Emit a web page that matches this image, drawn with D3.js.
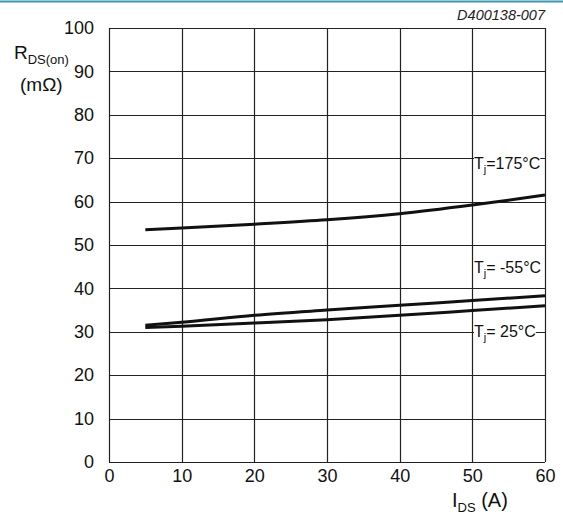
<!DOCTYPE html>
<html>
<head>
<meta charset="utf-8">
<script src="https://cdn.jsdelivr.net/npm/d3@7"></script>
<style>
  html, body { margin: 0; padding: 0; background: #fff; }
  svg { display: block; font-family: "Liberation Sans", Arial, sans-serif; }
</style>
</head>
<body>
<svg id="chart" width="563" height="517"></svg>
<script>
// Drain current (A)
const currents = [5, 10, 20, 30, 40, 50, 60];
// On-resistance (mΩ) per junction temperature
const rHot175 = [53.5, 53.9, 54.8, 55.8, 57.2, 59.2, 61.5];
const rCold55 = [31.5, 32.2, 33.8, 35.0, 36.1, 37.2, 38.3];
const rRoom25 = [31.0, 31.3, 32.0, 32.8, 33.8, 34.9, 36.0];
const seriesNames = ["=175°C", "= -55°C", "= 25°C"];
// baseline of each temperature label, in mΩ
const labelValues = [67.5, 43.5, 28.8];
const xTicks = [0, 10, 20, 30, 40, 50, 60];
const yTicks = [0, 10, 20, 30, 40, 50, 60, 70, 80, 90, 100];

const svg = d3.select("#chart");
const x = d3.scaleLinear().domain([0, 60]).range([109, 545]);
const y = d3.scaleLinear().domain([0, 100]).range([462, 28]);

// header rule
svg.append("line").attr("x1", 0).attr("x2", 563).attr("y1", 1.5).attr("y2", 1.5)
  .attr("stroke", "#3f93b3").attr("stroke-width", 2);

// document number
svg.append("text").attr("x", 545).attr("y", 20).attr("text-anchor", "end")
  .attr("font-style", "italic").attr("font-size", 14.5).attr("fill", "#222")
  .text("D400138-007");

// grid
const grid = svg.append("g").attr("stroke", "#222").attr("stroke-width", 1.2);
xTicks.forEach(t => grid.append("line")
  .attr("x1", Math.round(x(t)) + 0.5).attr("x2", Math.round(x(t)) + 0.5)
  .attr("y1", y(100)).attr("y2", y(0)));
yTicks.forEach(t => grid.append("line")
  .attr("x1", x(0)).attr("x2", x(60))
  .attr("y1", Math.round(y(t)) + 0.5).attr("y2", Math.round(y(t)) + 0.5));

// tick labels via d3 axes (no domain / tick lines)
const xAxis = svg.append("g").attr("transform", `translate(0,${y(0)})`)
  .call(d3.axisBottom(x).tickValues(xTicks).tickSize(0).tickPadding(7));
const yAxis = svg.append("g").attr("transform", `translate(${x(0)},0)`)
  .call(d3.axisLeft(y).tickValues(yTicks).tickSize(0).tickPadding(15));
[xAxis, yAxis].forEach(a => {
  a.select(".domain").remove();
  a.selectAll("text").attr("font-size", 18).attr("fill", "#111")
    .attr("font-family", "'Liberation Sans', Arial, sans-serif");
});

// curves
const line = d3.line().x((d, i) => x(currents[i])).y(d => y(d)).curve(d3.curveMonotoneX);
[rHot175, rCold55, rRoom25].forEach(s => {
  svg.append("path").datum(s).attr("d", line)
    .attr("fill", "none").attr("stroke", "#111").attr("stroke-width", 3);
});

// temperature labels with white backing
seriesNames.forEach((name, i) => {
  const g = svg.append("g");
  const t = g.append("text").attr("x", 474).attr("y", y(labelValues[i]))
    .attr("font-size", 16).attr("fill", "#111");
  t.append("tspan").text("T");
  t.append("tspan").attr("font-size", 11).attr("dy", 4).text("j");
  t.append("tspan").attr("dy", -4).text(name);
  const bb = t.node().getBBox();
  g.insert("rect", "text").attr("x", bb.x).attr("y", bb.y + 2)
    .attr("width", bb.width).attr("height", bb.height - 3).attr("fill", "#fff");
});

// y-axis title
const yt = svg.append("text").attr("x", 14).attr("y", 59).attr("font-size", 19).attr("fill", "#111");
yt.append("tspan").text("R");
yt.append("tspan").attr("font-size", 13).attr("dy", 5).text("DS(on)");
svg.append("text").attr("x", 20).attr("y", 91).attr("font-size", 19).attr("fill", "#111").text("(mΩ)");

// x-axis title
const xt = svg.append("text").attr("x", 452).attr("y", 507).attr("font-size", 20).attr("fill", "#111");
xt.append("tspan").text("I");
xt.append("tspan").attr("font-size", 13).attr("dy", 5).text("DS");
xt.append("tspan").attr("dy", -5).text(" (A)");
</script>
</body>
</html>
